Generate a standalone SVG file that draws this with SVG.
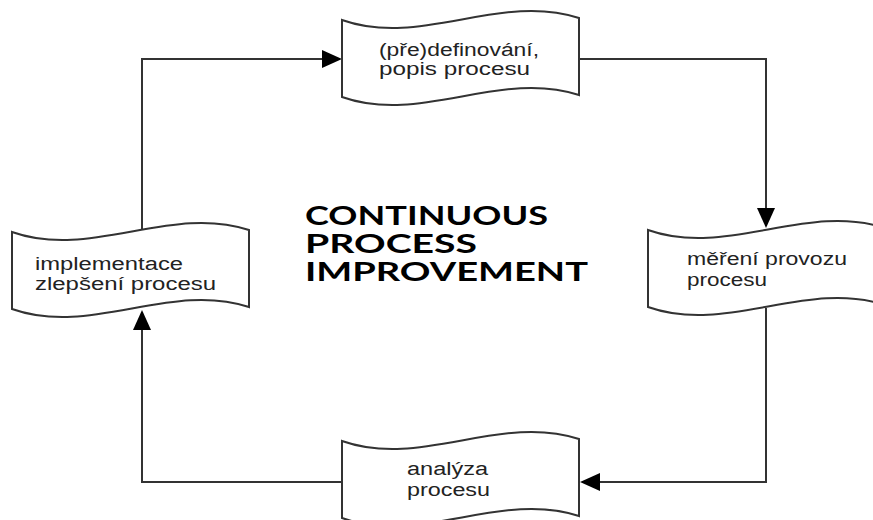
<svg xmlns="http://www.w3.org/2000/svg" width="873" height="520" viewBox="0 0 873 520">
  <style>
    .tape { fill: #ffffff; stroke: #333333; stroke-width: 2; stroke-linejoin: miter; }
    .lbl { font-family: "Liberation Sans", Arial, sans-serif; font-size: 18px; fill: #222222; }
    .title { font-family: Lato, "Open Sans", "Liberation Sans", sans-serif; font-weight: 700; font-size: 26px; fill: #000000; }
    .conn { fill: none; stroke: #333333; stroke-width: 2; }
  </style>
  <defs>
    <!-- punched-tape flowchart shape: wavy top and bottom edges -->
    <path id="tape" d="M0,0 C79,28 158,-28 237,-2 L237,75 C158,49 79,105 0,77 Z"/>
    <marker id="arrow" markerWidth="20" markerHeight="18" refX="18" refY="9" orient="auto" markerUnits="userSpaceOnUse">
      <path d="M0,0 L20,9 L0,18 Z" fill="#000000"/>
    </marker>
  </defs>

  <rect width="873" height="520" fill="#ffffff"/>

  <!-- connectors -->
  <g id="connectors">
    <path class="conn" d="M579,59 H766 V226" marker-end="url(#arrow)"/>
    <path class="conn" d="M766,308 V482 H582" marker-end="url(#arrow)"/>
    <path class="conn" d="M342,482 H142 V312" marker-end="url(#arrow)"/>
    <path class="conn" d="M142,232 V59 H340" marker-end="url(#arrow)"/>
  </g>

  <!-- nodes -->
  <g id="node-define">
    <use href="#tape" class="tape" transform="translate(342,20)"/>
    <text class="lbl" x="379" y="56" textLength="160" lengthAdjust="spacingAndGlyphs">(pře)definování,</text>
    <text class="lbl" x="379" y="75" textLength="151" lengthAdjust="spacingAndGlyphs">popis procesu</text>
  </g>

  <g id="node-measure">
    <use href="#tape" class="tape" transform="translate(648,230)"/>
    <text class="lbl" x="687" y="265" textLength="160" lengthAdjust="spacingAndGlyphs">měření provozu</text>
    <text class="lbl" x="687" y="286" textLength="80" lengthAdjust="spacingAndGlyphs">procesu</text>
  </g>

  <g id="node-analyze">
    <use href="#tape" class="tape" transform="translate(342,441)"/>
    <text class="lbl" x="407" y="475" textLength="81" lengthAdjust="spacingAndGlyphs">analýza</text>
    <text class="lbl" x="407" y="496" textLength="83" lengthAdjust="spacingAndGlyphs">procesu</text>
  </g>

  <g id="node-implement">
    <use href="#tape" class="tape" transform="translate(12,232)"/>
    <text class="lbl" x="35" y="270" textLength="148" lengthAdjust="spacingAndGlyphs">implementace</text>
    <text class="lbl" x="35" y="290" textLength="181" lengthAdjust="spacingAndGlyphs">zlepšení procesu</text>
  </g>

  <!-- central heading -->
  <g id="heading">
    <text class="title" x="305" y="225" textLength="243" lengthAdjust="spacingAndGlyphs">CONTINUOUS</text>
    <text class="title" x="305" y="253" textLength="172" lengthAdjust="spacingAndGlyphs">PROCESS</text>
    <text class="title" x="305" y="281" textLength="283" lengthAdjust="spacingAndGlyphs">IMPROVEMENT</text>
  </g>
</svg>
